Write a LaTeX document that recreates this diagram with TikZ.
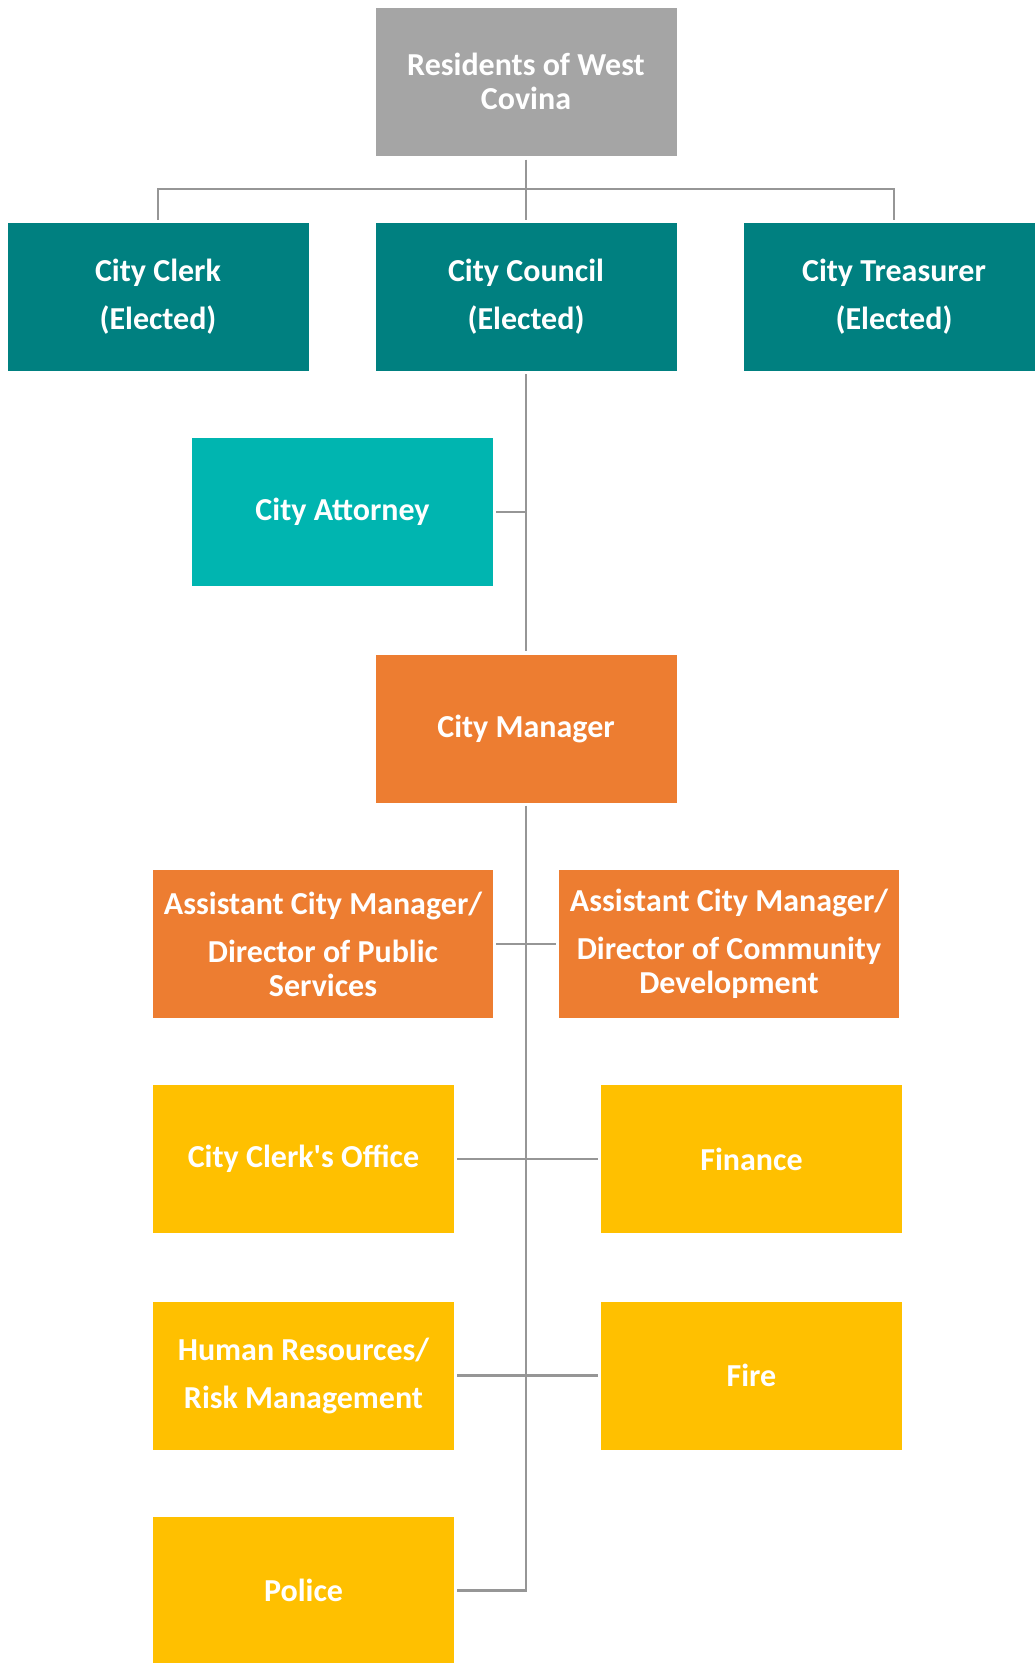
\documentclass[tikz,border=0pt]{standalone}
\usepackage{fontspec}
\setmainfont{Carlito}[Ligatures=TeXOff]
\definecolor{cgray}{RGB}{165,165,165}
\definecolor{cteal}{RGB}{0,128,128}
\definecolor{caqua}{RGB}{0,181,176}
\definecolor{corange}{RGB}{237,125,49}
\definecolor{cyellow}{RGB}{255,192,0}
\definecolor{cline}{RGB}{150,150,150}
\begin{document}
\begin{tikzpicture}[x=1pt,y=-1pt,
  box/.style={rectangle, inner sep=0pt, minimum width=301pt, minimum height=148pt,
    text=white, font=\fontsize{32}{34}\selectfont\bfseries, align=center},
  widebox/.style={box, minimum width=340pt},
  conn/.style={draw=cline, line width=2.8pt}]
\clip (0,0) rectangle (1035,1663);
\fill[white] (0,0) rectangle (1035,1663);
\node[box, fill=cgray] (res) at (526,81.5) {Residents of West\\Covina};
\node[box, fill=cteal] (clerk) at (158,297) {City Clerk\\[14pt](Elected)};
\node[box, fill=cteal] (council) at (526,297) {City Council\\[14pt](Elected)};
\node[box, fill=cteal] (treas) at (894,297) {City Treasurer\\[14pt](Elected)};
\node[box, fill=caqua] (attorney) at (342.5,512) {City Attorney};
\node[box, fill=corange] (manager) at (526,728.5) {City Manager};
\node[widebox, fill=corange] (acm1) at (323,944) {Assistant City Manager/\\[14pt]Director of Public\\Services};
\node[widebox, fill=corange] (acm2) at (729,944) {Assistant City Manager/\\[14pt]Director of Community\\Development};
\node[box, fill=cyellow] (cco) at (303.5,1159) {City Clerk's Office};
\node[box, fill=cyellow] (finance) at (751.5,1159) {Finance};
\node[box, fill=cyellow] (hr) at (303.5,1375.5) {Human Resources/\\[14pt]Risk Management};
\node[box, fill=cyellow] (fire) at (751.5,1375.5) {Fire};
\node[box, fill=cyellow] (police) at (303.5,1590.5) {Police};
\coordinate (bar) at (526,189);
% top connectors
\draw[conn] ([yshift=-4pt]res.south) -- ([yshift=3pt]council.north);
\draw[conn] ([yshift=3pt]clerk.north) |- (bar) -| ([yshift=3pt]treas.north);
% council trunk
\draw[conn] ([yshift=-3pt]council.south) -- ([yshift=3pt]manager.north);
\draw[conn] ([xshift=3pt]attorney.east) -- (attorney.east -| council.south);
% manager trunk
\draw[conn] ([yshift=-3pt]manager.south) |- ([xshift=3pt]police.east);
\draw[conn] ([xshift=3pt]acm1.east) -- ([xshift=-3pt]acm2.west);
\draw[conn] ([xshift=3pt]cco.east) -- ([xshift=-3pt]finance.west);
\draw[conn] ([xshift=3pt]hr.east) -- ([xshift=-3pt]fire.west);
\end{tikzpicture}
\end{document}
